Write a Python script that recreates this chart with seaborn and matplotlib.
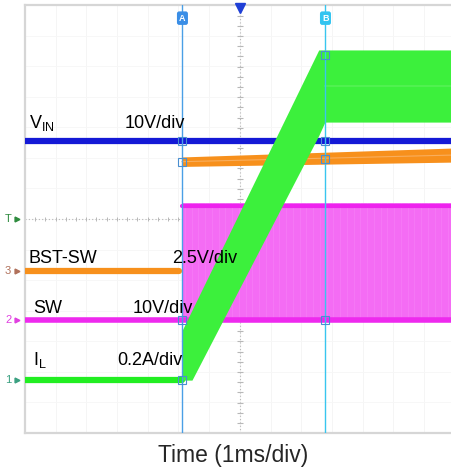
import numpy as np
import pandas as pd
import matplotlib
matplotlib.use('Agg')
import matplotlib.pyplot as plt
import seaborn as sns

# screen is drawn in divisions (14 x 14 grid, right edge cut off)
x_max = 13.88
y_max = 14.0

cursor_a = 5.11
cursor_b = 9.77
trig_x = 7.0
trig_level = 7.0

# V_IN (blue), flat
vin_x = [0.0, x_max]
vin_y = [9.55, 9.55]

# BST-SW (orange)
bst_pre_x = [0.0, 5.02]
bst_pre_y = [5.30, 5.30]
bst_band_x = [cursor_a, x_max]
bst_band_top = [9.03, 9.32]
bst_band_bot = [8.72, 8.86]

# SW (magenta)
sw_pre_x = [0.0, cursor_a]
sw_low = 3.70
sw_high = 7.52

# I_L (green)
il_pre_x = [0.0, cursor_a]
il_pre_y = [1.73, 1.73]
il_x = [5.11, 5.44, 9.57, 9.77, 13.88]
il_top = [3.34, 4.02, 12.53, 12.53, 12.53]
il_bot = [1.73, 1.73, 9.73, 10.17, 10.17]

labels = [('V$_{\\mathrm{IN}}$', 0.12, 9.98), ('10V/div', 3.26, 9.98),
          ('BST-SW', 0.1, 5.56), ('2.5V/div', 4.79, 5.56),
          ('SW', 0.26, 3.93), ('10V/div', 3.52, 3.93),
          ('I$_{\\mathrm{L}}$', 0.26, 2.22), ('0.2A/div', 3.0, 2.22)]

sns.set_theme(style='white')
plt.rcParams['font.family'] = ['Liberation Sans', 'DejaVu Sans']
plt.rcParams['mathtext.fontset'] = 'custom'
plt.rcParams['mathtext.rm'] = 'Liberation Sans'

fig = plt.figure(figsize=(4.51, 4.74), dpi=100)
ax = fig.add_axes([25 / 451, 1 - 433 / 474, 1 - 25 / 451, 428 / 474])
ax.set_xlim(0, x_max)
ax.set_ylim(0, y_max)

# faint grid
for gx in range(1, 14):
    ax.axvline(gx, color='#f5f5f5', lw=0.7, zorder=0)
for gy in range(1, 14):
    ax.axhline(gy, color='#f7f7f7', lw=0.7, zorder=0)

# center dotted axis + trigger level line
ax.axvline(trig_x, color='#b8b8b8', lw=0.8, ls=(0, (1, 2)), zorder=1)
tk = np.arange(0.33, y_max, 0.333)
ax.plot([trig_x] * len(tk), tk, ls='none', marker='_', ms=4, mew=0.8, color='#b8b8b8', zorder=1)
ax.plot([0, cursor_a], [trig_level, trig_level], color='#b8b8b8', lw=0.8, ls=(0, (1, 2)), zorder=1)
tkx = np.arange(0.33, cursor_a, 0.333)
ax.plot(tkx, [trig_level] * len(tkx), ls='none', marker='|', ms=3, mew=0.7, color='#b8b8b8', zorder=1)

# SW switching band
ax.fill_between([cursor_a, x_max], sw_low, sw_high, color='#f46cf4', lw=0, zorder=2)
for sx in np.arange(cursor_a + 0.1, x_max, 0.22):
    ax.axvline(sx, ymin=sw_low / y_max, ymax=sw_high / y_max, color='#f78cf7', lw=0.5, alpha=0.5, zorder=2)
ax.plot([cursor_a, x_max], [sw_high - 0.08, sw_high - 0.08], color='#ee22ee', lw=3, zorder=2)
sns.lineplot(x=[0.0, x_max], y=[sw_low, sw_low], color='#ee2aee', lw=4, ax=ax, zorder=3)

# BST-SW
sns.lineplot(x=bst_pre_x, y=bst_pre_y, color='#f7901c', lw=4.5, ax=ax, zorder=3)
ax.fill_between(bst_band_x, bst_band_bot, bst_band_top, color='#f7901c', lw=0, zorder=3)
ax.plot(bst_band_x, [(a + b) / 2 for a, b in zip(bst_band_top, bst_band_bot)], color='#f9ae5c', lw=0.8, zorder=3)

# V_IN
sns.lineplot(x=vin_x, y=vin_y, color='#1419d6', lw=4.5, ax=ax, zorder=4)

# I_L
sns.lineplot(x=il_pre_x, y=il_pre_y, color='#22ee22', lw=4.5, ax=ax, zorder=5)
ax.fill_between(il_x, il_bot, il_top, color='#3cf03c', lw=0, zorder=5)
ax.plot([9.77, x_max], [11.35, 11.35], color='#6ff56f', lw=1.5, alpha=0.4, zorder=5)

# cursors
ax.axvline(cursor_a, color='#4a9fe6', lw=1, zorder=6)
ax.axvline(cursor_b, color='#38c6ef', lw=1, zorder=6)
for cx, col in [(cursor_a, '#3a8ee6'), (cursor_b, '#33c4f0')]:
    ax.text(cx + 0.02, 13.57, 'A' if cx == cursor_a else 'B', color='white', fontsize=6.5,
            ha='center', va='center', fontweight='bold', zorder=8,
            bbox=dict(boxstyle='round,pad=0.25', fc=col, ec='none'))
for cx, cy in [(cursor_a, 9.55), (cursor_a, 8.85), (cursor_a, 3.70), (cursor_a, 1.73),
               (cursor_b, 12.35), (cursor_b, 9.55), (cursor_b, 8.95), (cursor_b, 3.70)]:
    ax.plot(cx, cy, marker='s', ms=6, mfc='none', mec='#4a8fd0', mew=0.8, zorder=7)

# trigger position
ax.plot(trig_x, y_max - 0.1, marker='v', ms=7, color='#1f3fd6', clip_on=False, zorder=9)

for txt, tx, ty in labels:
    ax.text(tx, ty, txt, fontsize=13, color='black', va='baseline', ha='left', zorder=10)

# channel markers on the left
for txt, ty, col in [('T', 7.0, '#2e8b3e'), ('3', 5.30, '#b0705a'),
                     ('2', 3.70, '#e040e0'), ('1', 1.73, '#3aa080')]:
    ax.text(-0.55, ty, txt, fontsize=8, color=col, ha='center', va='center', clip_on=False)
    ax.plot(-0.25, ty, marker='>', ms=3.5, color=col, clip_on=False)

ax.set_xticks([])
ax.set_yticks([])
for s in ['top', 'bottom', 'left']:
    ax.spines[s].set_color('#d6d6d6')
    ax.spines[s].set_linewidth(1.6)
ax.spines['right'].set_visible(False)

fig.text(233 / 451, 1 - 462 / 474, 'Time (1ms/div)', fontsize=16.5, ha='center', va='baseline')

fig.savefig('out.png', dpi=100)
